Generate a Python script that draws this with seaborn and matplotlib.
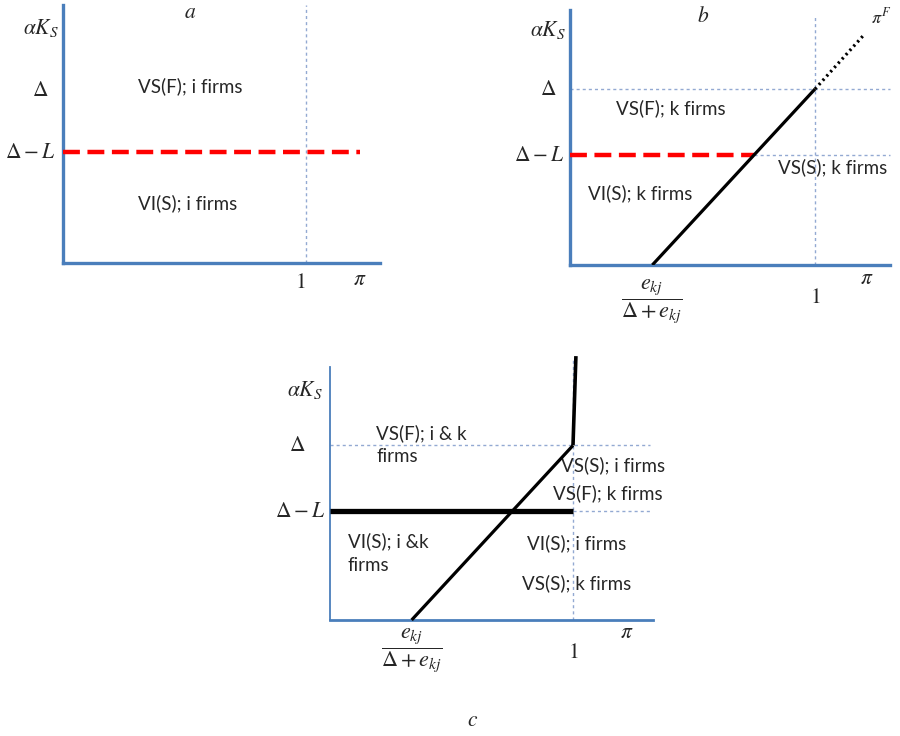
import matplotlib
matplotlib.use("Agg")
import matplotlib.pyplot as plt
import seaborn as sns
import pandas as pd

# ---- conceptual values of the diagram ----
delta = 0.69          # Δ
delta_minus_L = 0.43  # Δ - L
x_threshold = 0.336   # e_kj / (Δ + e_kj)
x_one = 1.0           # π = 1
pi_f_end = (1.204, 0.907)   # end of dotted π^F continuation (panel b)
vert_top = (1.012, 1.043)   # top of vertical segment (panel c)

panel_a_labels = ["VS(F); i firms", "VI(S); i firms"]
panel_b_labels = ["VS(F); k firms", "VI(S); k firms", "VS(S); k firms"]
panel_c_labels = ["VS(F); i & k\nfirms", "VS(S); i firms", "VS(F); k firms",
                  "VI(S); i &k\nfirms", "VI(S); i firms", "VS(S); k firms"]
titles = ["a", "b", "c"]

sns.set_theme(style="white")
plt.rcParams["font.family"] = ["Lato", "DejaVu Sans"]
plt.rcParams["mathtext.fontset"] = "stix"
plt.rcParams["lines.solid_capstyle"] = "butt"
plt.rcParams["lines.dash_capstyle"] = "butt"

BLUE = "#4a7ebb"
GUIDE = "#93a9d2"
TXT = "#262626"
FS = 13.5
MFS = 15.5

fig = plt.figure(figsize=(9, 7.36), dpi=100)

def setup(ax, xmax, lw_x, lw_y):
    ax.set_xlim(0, xmax)
    ax.set_ylim(0, 1)
    ax.set_xticks([])
    ax.set_yticks([])
    for s in ["top", "right"]:
        ax.spines[s].set_visible(False)
    ax.spines["left"].set_color(BLUE)
    ax.spines["bottom"].set_color(BLUE)
    ax.spines["left"].set_linewidth(lw_y)
    ax.spines["bottom"].set_linewidth(lw_x)
    ax.patch.set_alpha(0)

def guide(ax, xs, ys):
    ax.plot(xs, ys, color=GUIDE, lw=1.0, dashes=(2.2, 2.2), zorder=1, clip_on=False)

def mtext(ax, x, y, s, size=MFS, ha="center"):
    ax.text(x, y, s, ha=ha, va="center", fontsize=size, color=TXT, clip_on=False)

def ltext(ax, x, y, s, ha="center"):
    ax.text(x, y, s, ha=ha, va="center", fontsize=FS, color=TXT,
            linespacing=1.45, clip_on=False)

# ---------------- panel a ----------------
ax = fig.add_axes([63/900, 1-263/736, 317/900, 258/736])
setup(ax, 317/243, 2.4, 2.4)
guide(ax, [x_one, x_one], [0, 1.0])
df = pd.DataFrame({"x": [0, 1.222], "y": [delta_minus_L, delta_minus_L]})
sns.lineplot(data=df, x="x", y="y", ax=ax, color="red", lw=3.2, zorder=3)
ax.lines[-1].set_dashes((3.8, 1.7))
ax.lines[-1].set_clip_on(False)
ax.set_xlabel(""); ax.set_ylabel("")
mtext(ax, 0.523, 0.973, "$a$")
mtext(ax, -0.09, 0.911, r"$\alpha K_S$")
mtext(ax, -0.095, 0.67, r"$\Delta$")
mtext(ax, -0.135, delta_minus_L, r"$\Delta - L$")
mtext(ax, 0.975, -0.075, "$1$")
mtext(ax, 1.222, -0.062, r"$\pi$")
ltext(ax, 0.523, 0.686, panel_a_labels[0])
ltext(ax, 0.514, 0.233, panel_a_labels[1])

# ---------------- panel b ----------------
ax = fig.add_axes([570/900, 1-265/736, 320/900, 255/736])
setup(ax, 320/245, 2.4, 2.4)
slope = delta / (x_one - x_threshold)
x_cross = x_threshold + delta_minus_L / slope
guide(ax, [x_one, x_one], [0, 0.98])
guide(ax, [0, 320/245], [delta, delta])
guide(ax, [x_cross, 320/245], [delta_minus_L, delta_minus_L])
dfr = pd.DataFrame({"x": [0, x_cross], "y": [delta_minus_L, delta_minus_L]})
sns.lineplot(data=dfr, x="x", y="y", ax=ax, color="red", lw=3.2, zorder=3)
ax.lines[-1].set_dashes((3.8, 1.7))
dfl = pd.DataFrame({"x": [x_threshold, x_one], "y": [0, delta]})
sns.lineplot(data=dfl, x="x", y="y", ax=ax, color="black", lw=2.3, zorder=4)
dfd = pd.DataFrame({"x": [x_one, pi_f_end[0]], "y": [delta, pi_f_end[1]]})
sns.lineplot(data=dfd, x="x", y="y", ax=ax, color="black", lw=2.3, zorder=4)
ax.lines[-1].set_dashes((0.7, 1.1))
ax.set_xlabel(""); ax.set_ylabel("")
mtext(ax, 0.543, 0.975, "$b$")
mtext(ax, 1.27, 0.975, r"$\pi^F$", size=13)
mtext(ax, -0.09, 0.92, r"$\alpha K_S$")
mtext(ax, -0.09, delta, r"$\Delta$")
mtext(ax, -0.125, delta_minus_L, r"$\Delta - L$")
mtext(ax, x_one, -0.125, "$1$")
mtext(ax, 1.212, -0.05, r"$\pi$")
mtext(ax, x_threshold, -0.14, r"$\dfrac{e_{kj}}{\Delta + e_{kj}}$", size=16)
ltext(ax, 0.412, 0.616, panel_b_labels[0])
ltext(ax, 0.286, 0.282, panel_b_labels[1])
ltext(ax, 1.073, 0.384, panel_b_labels[2])

# ---------------- panel c ----------------
ax = fig.add_axes([330/900, 1-620/736, 323/900, 253/736])
setup(ax, 323/243, 2.0, 1.3)
guide(ax, [x_one, x_one], [0, 1.03])
guide(ax, [0, 1.317], [delta, delta])
guide(ax, [x_one, 1.317], [delta_minus_L, delta_minus_L])
dfh = pd.DataFrame({"x": [0, x_one], "y": [delta_minus_L, delta_minus_L]})
sns.lineplot(data=dfh, x="x", y="y", ax=ax, color="black", lw=3.8, zorder=4)
dfl2 = pd.DataFrame({"x": [x_threshold, x_one], "y": [0, delta]})
sns.lineplot(data=dfl2, x="x", y="y", ax=ax, color="black", lw=2.3, zorder=4)
dfv = pd.DataFrame({"x": [x_one, vert_top[0]], "y": [delta, vert_top[1]]})
sns.lineplot(data=dfv, x="x", y="y", ax=ax, color="black", lw=2.6, zorder=4,
             sort=False)
for ln in ax.lines[-3:]:
    ln.set_clip_on(False)
ax.set_xlabel(""); ax.set_ylabel("")
mtext(ax, -0.103, 0.909, r"$\alpha K_S$")
mtext(ax, -0.136, delta, r"$\Delta$")
mtext(ax, -0.123, delta_minus_L, r"$\Delta - L$")
mtext(ax, x_one, -0.126, "$1$")
mtext(ax, 1.222, -0.047, r"$\pi$")
mtext(ax, x_threshold, -0.12, r"$\dfrac{e_{kj}}{\Delta + e_{kj}}$", size=16)
mtext(ax, 0.588, -0.395, "$c$")
ltext(ax, 0.19, 0.694, panel_c_labels[0], ha="left")
ltext(ax, 0.95, 0.613, panel_c_labels[1], ha="left")
ltext(ax, 0.918, 0.502, panel_c_labels[2], ha="left")
ltext(ax, 0.074, 0.265, panel_c_labels[3], ha="left")
ltext(ax, 0.81, 0.304, panel_c_labels[4], ha="left")
ltext(ax, 0.79, 0.146, panel_c_labels[5], ha="left")

fig.savefig("out.png", dpi=100, facecolor="white")
